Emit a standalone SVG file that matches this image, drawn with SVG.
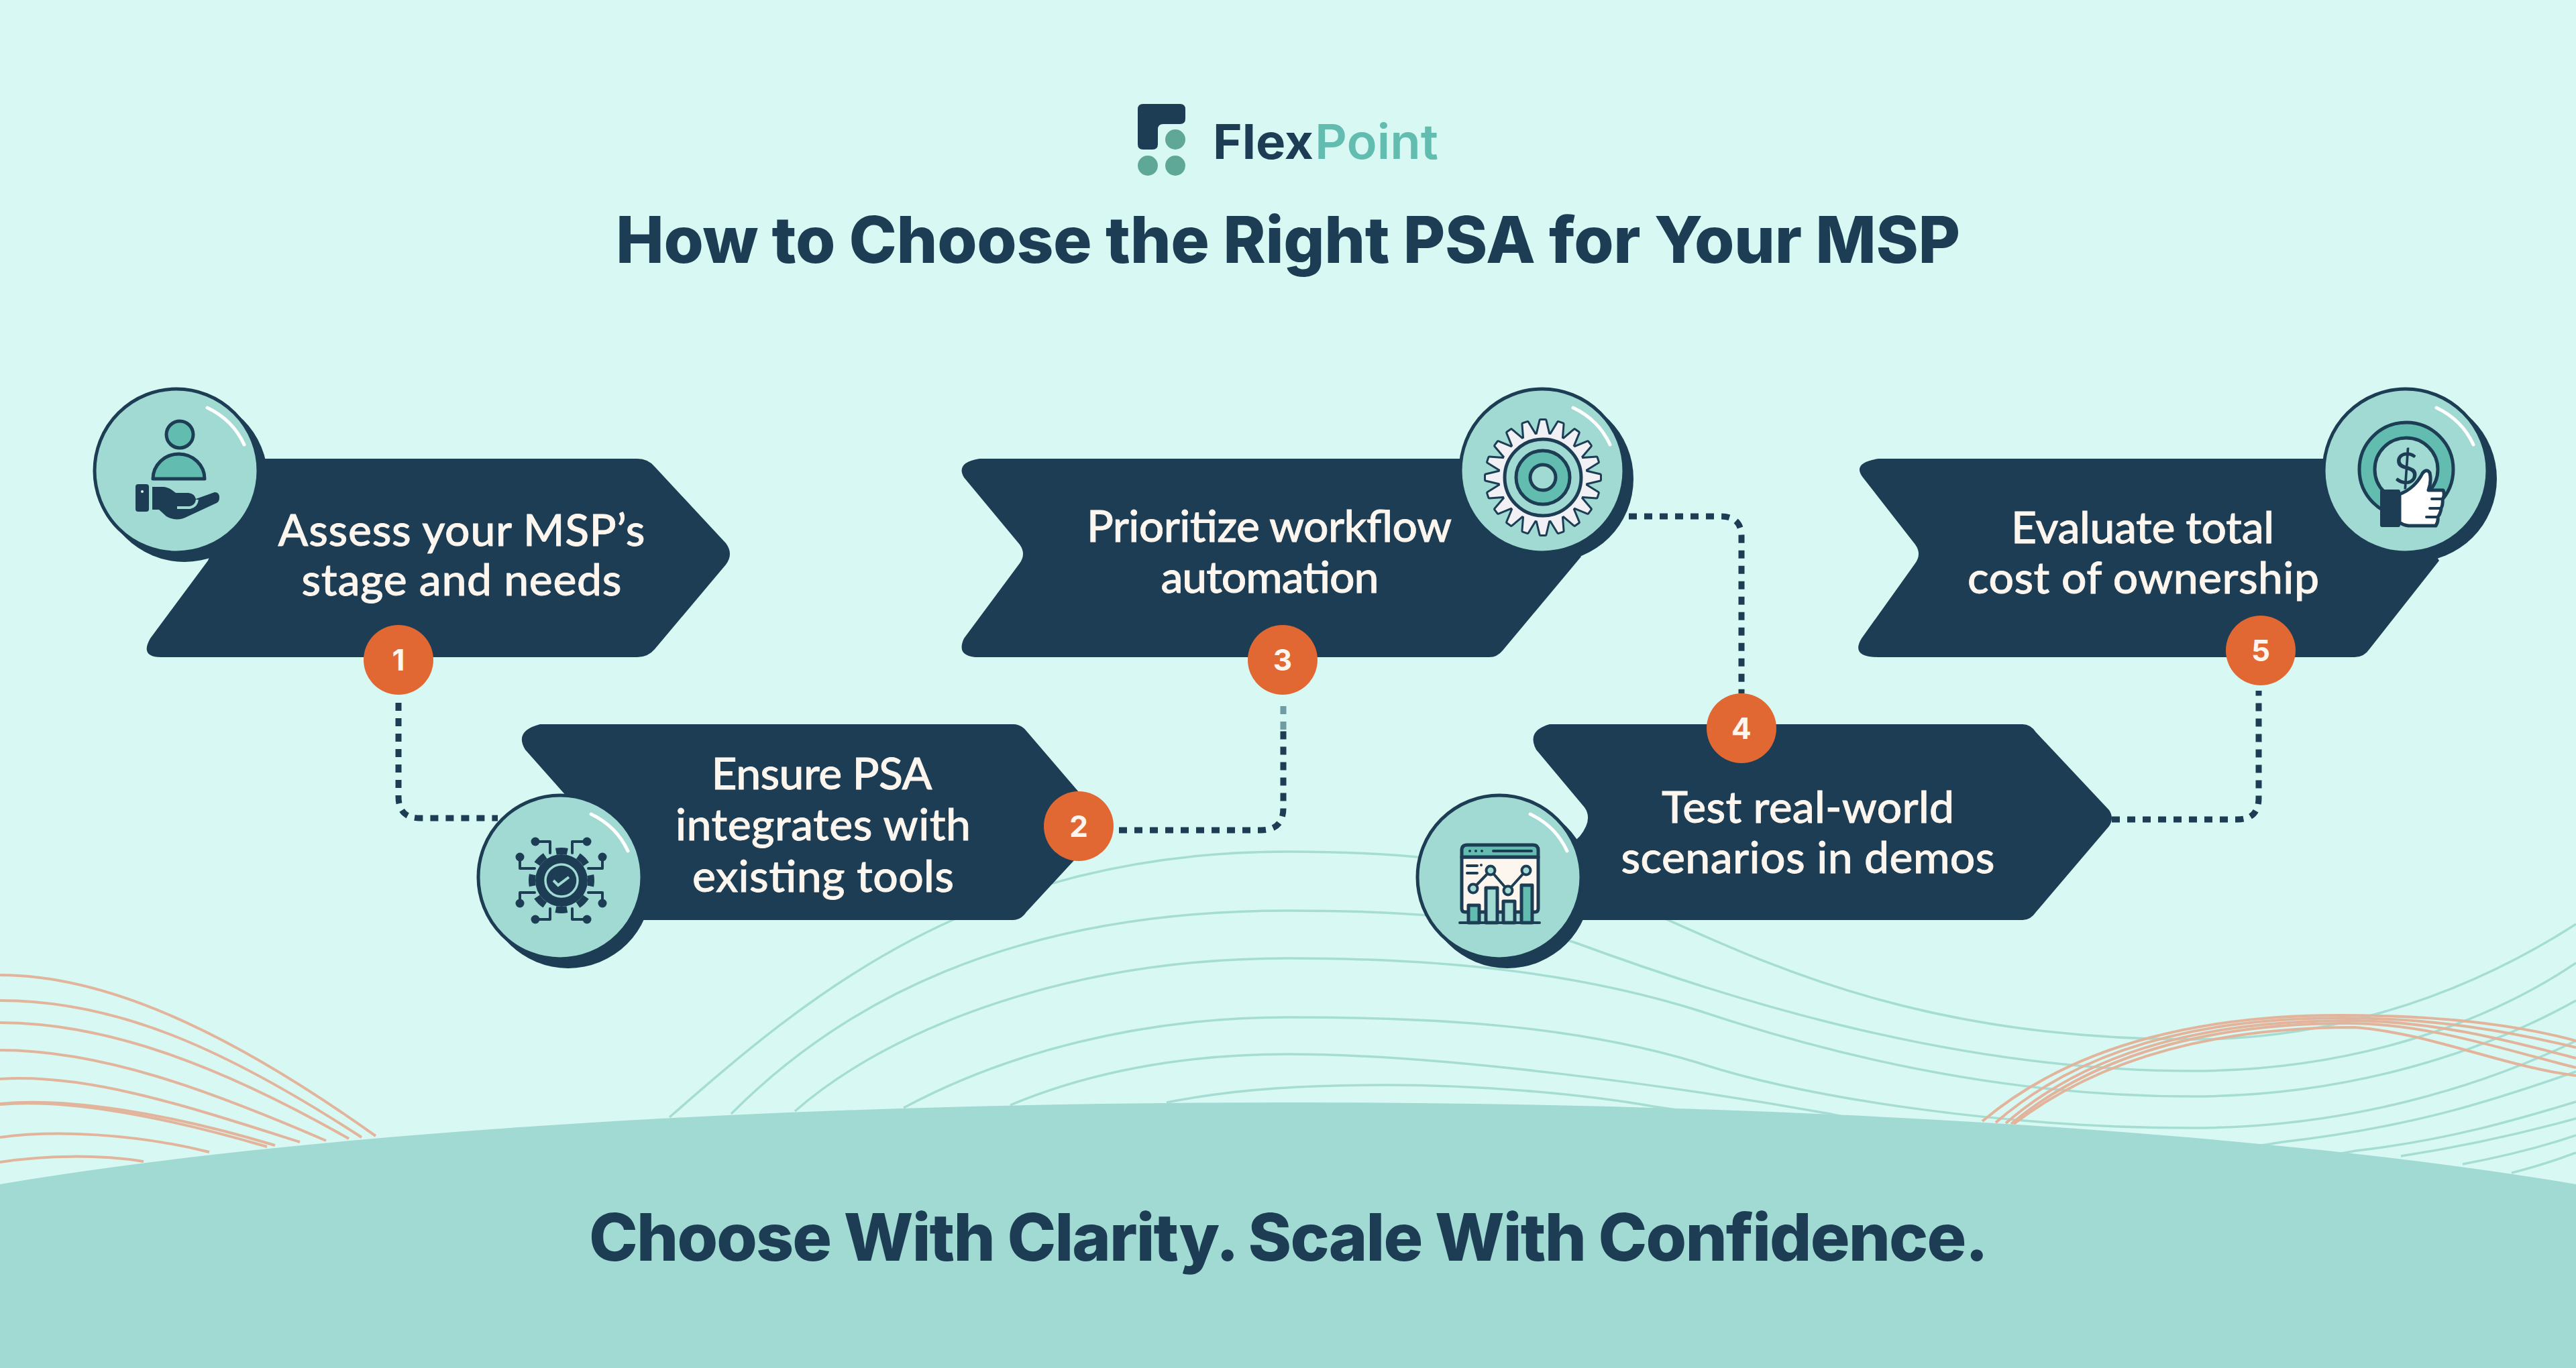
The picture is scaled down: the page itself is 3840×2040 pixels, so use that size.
<svg xmlns="http://www.w3.org/2000/svg" xmlns:xlink="http://www.w3.org/1999/xlink" width="3840" height="2040" viewBox="0 0 3840 2040">
<style>
.navy{fill:#1c3d54}
.body{font-family:"Lato","Liberation Sans",sans-serif;font-weight:500;font-size:66px;fill:#fdf6ee;stroke:#fdf6ee;stroke-width:.8px;text-anchor:middle}
.head{font-family:"Inter","Liberation Sans",sans-serif;font-weight:800;fill:#1c3d54;text-anchor:middle}
.num{font-family:"Inter","Liberation Sans",sans-serif;font-weight:700;font-size:44px;fill:#fdf6ee;text-anchor:middle}
.badge{fill:#e26833}
.tl{fill:none;stroke:#a5ddd3;stroke-width:3.5}
.pl{fill:none;stroke:#e3b49c;stroke-width:4}
.dash{fill:none;stroke:#1c3d54;stroke-width:9;stroke-dasharray:12 11}
.ln{fill:none;stroke:#1c3d54;stroke-width:4;stroke-linecap:round;stroke-linejoin:round}
.icn{stroke:#1c3d54;stroke-width:5;stroke-linejoin:round}
.teal{fill:#62bdb0}.pale{fill:#a1d9d3}.cream{fill:#fdf6ee}
</style>
<defs>
<g id="bubble">
<circle cx="12" cy="12" r="124" fill="#1c3d54"/>
<circle r="122" fill="#a1d9d3" stroke="#1c3d54" stroke-width="5"/>
<path d="M46 -94 Q84 -76 101 -39" fill="none" stroke="#fff" stroke-width="5" stroke-linecap="round"/>
</g>
<path id="tooth" d="M-9 -62 L-3.500 -85 L3.500 -85 L9 -62 Z"/>
<g id="t5"><use xlink:href="#tooth"/><use xlink:href="#tooth" transform="rotate(18)"/><use xlink:href="#tooth" transform="rotate(36)"/><use xlink:href="#tooth" transform="rotate(54)"/><use xlink:href="#tooth" transform="rotate(72)"/></g>
<g id="t20"><use xlink:href="#t5"/><use xlink:href="#t5" transform="rotate(90)"/><use xlink:href="#t5" transform="rotate(180)"/><use xlink:href="#t5" transform="rotate(270)"/></g>
</defs>
<rect width="3840" height="2040" fill="#d8f8f3"/>
<g id="background-lines">
<path class="tl" d="M998 1666 C1200 1490 1450 1270 1920 1270 C2130 1270 2300 1290 2489 1373 C2650 1445 2880 1550 3267 1550 C3450 1550 3650 1500 3840 1378"/>
<path class="tl" d="M1090 1661 C1250 1500 1500 1358 1920 1358 C2110 1358 2240 1370 2349 1406 C2550 1480 2900 1597 3267 1597 C3500 1597 3700 1530 3840 1436"/>
<path class="tl" d="M1185 1657 C1330 1530 1600 1429 1920 1429 C2150 1429 2350 1450 2532 1507 C2750 1580 3000 1635 3267 1635 C3500 1635 3700 1570 3840 1492"/>
<path class="tl" d="M1347 1652 C1500 1570 1700 1517 1920 1517 C2150 1517 2350 1530 2532 1585 C2700 1640 3000 1682 3267 1682 C3500 1682 3700 1620 3840 1552"/>
<path class="tl" d="M1506 1648 C1620 1600 1760 1572 1920 1572 C2150 1572 2500 1620 2728 1661 C2900 1700 3200 1740 3402 1703 C3600 1680 3720 1640 3840 1598"/>
<path class="tl" d="M1739 1644 C1850 1622 1960 1618 2067 1618 C2200 1618 2350 1630 2465 1650 C2800 1700 3300 1760 3512 1716 C3650 1700 3750 1670 3840 1643"/>
<path class="tl" d="M3579 1724 C3670 1710 3760 1690 3840 1668"/>
<path class="tl" d="M3671 1736 C3730 1725 3790 1710 3840 1693"/>
<path class="tl" d="M3744 1749 C3780 1740 3810 1730 3840 1719"/>
<path class="pl" d="M0 1454 C150 1454 330 1530 560 1694"/>
<path class="pl" d="M0 1492 C170 1492 330 1560 539 1696"/>
<path class="pl" d="M0 1525 C160 1525 330 1590 520 1698"/>
<path class="pl" d="M0 1566 C150 1566 310 1625 486 1701"/>
<path class="pl" d="M0 1609 C130 1600 280 1650 447 1703"/>
<path class="pl" d="M0 1646 C100 1636 250 1660 410 1708"/>
<path class="pl" d="M0 1647 C100 1638 245 1665 398 1710"/>
<path class="pl" d="M0 1696 C80 1685 200 1690 312 1718"/>
<path class="pl" d="M0 1733 C70 1722 150 1722 214 1732"/>
<path class="pl" d="M2955 1672 C3100 1550 3300 1514 3487 1514 C3620 1514 3740 1525 3840 1552"/>
<path class="pl" d="M2975 1674 C3110 1556 3300 1518 3490 1518 C3630 1518 3740 1538 3840 1562"/>
<path class="pl" d="M2990 1675 C3120 1562 3300 1522 3500 1522 C3630 1522 3740 1552 3840 1578"/>
<path class="pl" d="M2998 1676 C3130 1566 3310 1526 3500 1526 C3620 1526 3730 1565 3840 1592"/>
<path class="pl" d="M3002 1676 C3140 1570 3320 1532 3510 1532 C3620 1540 3730 1590 3840 1604"/>
</g>
<path id="hill" class="pale" d="M0 1766 A2400 305 0 0 1 3840 1766 V2040 H0 Z"/>
<g id="logo">
<path class="navy" d="M1704 155 H1759 Q1767 155 1767 163 V177 Q1767 185 1759 185 H1734 Q1726 185 1726 193 V215 Q1726 223 1718 223 H1704 Q1696 223 1696 215 V163 Q1696 155 1704 155 Z"/>
<circle cx="1752" cy="208" r="15" fill="#5fa898"/><circle cx="1711" cy="247" r="15" fill="#5fa898"/><circle cx="1752" cy="247" r="15" fill="#5fa898"/>
<text x="1808" y="237" font-family="Inter, Open Sans, sans-serif" font-weight="700" font-size="72" fill="#1c3d54" textLength="150" lengthAdjust="spacingAndGlyphs">Flex</text>
<text x="1960" y="237" font-family="Inter, Open Sans, sans-serif" font-weight="600" font-size="72" fill="#62bdb0" textLength="184" lengthAdjust="spacingAndGlyphs">Point</text>
</g>
<text id="title" class="head" x="1920" y="392" font-size="96" textLength="2004">How to Choose the Right PSA for Your MSP</text>
<text id="tagline" class="head" x="1921" y="1880" font-size="98" textLength="2086">Choose With Clarity. Scale With Confidence.</text>
<g id="connectors">
<path class="dash" d="M594 1048 V1188 Q594 1220 626 1220 H742"/>
<path class="dash" d="M1668 1238 H1880 Q1913 1238 1913 1205 V1090"/>
<path class="dash" d="M1913 1088 V1046" style="stroke:#6f9ca3"/>
<path class="dash" d="M2428 770 H2565 Q2596 770 2596 800 V1034"/>
<path class="dash" d="M3148 1222 H3335 Q3367 1222 3367 1190 V1030"/>
</g>
<g id="node-1">
<path class="navy" d="M340 684 H950 Q966 684 976 696 L1082 810 Q1094 826 1082 842 L976 968 Q966 980 950 980 H240 Q208 980 224 952 L310 836 L340 760 Z"/>
<use xlink:href="#bubble" x="263" y="702"/>
<path class="icn teal" d="M228 714 A38.500 37 0 0 1 305 714 Z"/><circle class="icn teal" cx="268" cy="648" r="20"/>
<rect class="navy" x="202" y="722" width="20" height="41" rx="4"/><circle cx="212" cy="733" r="2" fill="#d8f8f3"/>
<path class="navy" d="M227 726 H243 Q250 726 258 732 L262 735 H281 Q290 736 292 744 L320 734 Q327 734 327 742 Q327 748 323 750 L280 770 Q263 779 248 770 L237 760 H227 Z"/>
<path d="M264 757 H283 Q293 755 294 745" fill="none" stroke="#a1d9d3" stroke-width="4"/>
<text class="body" x="688" y="814" textLength="547">Assess your MSP’s</text>
<text class="body" x="688" y="888" textLength="477">stage and needs</text>
<circle class="badge" cx="594" cy="984" r="52"/><text class="num" x="594" y="1000">1</text>
</g>
<g id="node-2">
<path class="navy" d="M805 1080 H1510 Q1522 1080 1530 1090 L1650 1230 L1530 1360 Q1522 1372 1510 1372 H900 V1250 L783 1118 Q766 1090 805 1080 Z"/>
<use xlink:href="#bubble" x="835" y="1308"/>
<circle cx="837" cy="1313" r="39" fill="#1c3d54"/>
<circle cx="837" cy="1313" r="44" fill="none" stroke="#1c3d54" stroke-width="10" stroke-dasharray="17 17.560" stroke-dashoffset="8.500"/>
<circle cx="837" cy="1313" r="24" fill="none" stroke="#a1d9d3" stroke-width="3.500"/>
<path d="M825 1313 L832 1320 L848 1308" fill="none" stroke="#a1d9d3" stroke-width="4"/>
<path class="ln" d="M798 1255 H820 V1272 M875 1255 H853 V1272 M775 1278 V1295 H797 M898 1278 V1295 H877 M775 1347 V1331 H797 M898 1347 V1331 H877 M798 1371 H820 V1355 M875 1371 H853 V1355"/>
<g class="navy"><circle cx="798" cy="1255" r="6.500"/><circle cx="875" cy="1255" r="6.500"/><circle cx="775" cy="1278" r="6.500"/><circle cx="898" cy="1278" r="6.500"/><circle cx="775" cy="1347" r="6.500"/><circle cx="898" cy="1347" r="6.500"/><circle cx="798" cy="1371" r="6.500"/><circle cx="875" cy="1371" r="6.500"/></g>
<text class="body" x="1225" y="1177" textLength="329">Ensure PSA</text>
<text class="body" x="1227" y="1253" textLength="440">integrates with</text>
<text class="body" x="1227" y="1330" textLength="390">existing tools</text>
<circle class="badge" cx="1608" cy="1232" r="52"/><text class="num" x="1608" y="1248">2</text>
</g>
<g id="node-3">
<path class="navy" d="M1460 684 H2250 L2357 830 L2240 970 Q2232 980 2220 980 H1460 Q1424 980 1437 952 L1520 840 Q1530 826 1520 812 L1437 712 Q1424 690 1460 684 Z"/>
<use xlink:href="#bubble" x="2299" y="702"/>
<g transform="translate(2300 712)">
<use xlink:href="#t20" fill="#1c3d54" stroke="#1c3d54" stroke-width="6" stroke-linejoin="round"/>
<circle r="68" fill="#1c3d54"/>
<use xlink:href="#t20" fill="#f0f0f5"/>
<circle r="65" fill="#f0f0f5"/>
<circle r="57" fill="#a1d9d3" stroke="#1c3d54" stroke-width="5"/>
<circle r="40" fill="#62bdb0" stroke="#1c3d54" stroke-width="5"/>
<circle r="19" fill="#a1d9d3" stroke="#1c3d54" stroke-width="5"/>
</g>
<text class="body" x="1892" y="808" textLength="544">Prioritize workflow</text>
<text class="body" x="1893" y="884" textLength="325">automation</text>
<circle class="badge" cx="1912" cy="984" r="52"/><text class="num" x="1912" y="1000">3</text>
</g>
<g id="node-4">
<path class="navy" d="M2310 1080 H3015 Q3027 1080 3035 1092 L3144 1208 Q3152 1220 3144 1232 L3035 1360 Q3027 1372 3015 1372 H2300 V1300 L2355 1247 Q2375 1222 2362 1204 L2290 1118 Q2275 1090 2310 1080 Z"/>
<use xlink:href="#bubble" x="2235" y="1308"/>
<path class="icn cream" d="M2179 1278 H2293 V1355 Q2293 1360 2288 1360 H2184 Q2179 1360 2179 1355 Z"/>
<path class="icn teal" d="M2179 1278 V1268 Q2179 1260 2187 1260 H2285 Q2293 1260 2293 1268 V1278 Z"/>
<rect class="icn teal" x="2189" y="1350" width="16" height="26"/>
<rect class="icn pale" x="2215" y="1324" width="17" height="52"/>
<rect class="icn pale" x="2241" y="1344" width="17" height="32"/>
<rect class="icn teal" x="2268" y="1320" width="16" height="56"/>
<path class="ln" d="M2176 1376 H2295 M2226 1269 H2283 M2187 1291 H2202 M2187 1302 H2202"/>
<path class="ln" d="M2196 1325 L2222 1298 L2248 1328 L2275 1298"/>
<g class="navy"><circle cx="2191" cy="1269" r="2"/><circle cx="2200" cy="1269" r="2"/><circle cx="2209" cy="1269" r="2"/><circle cx="2208" cy="1290" r="2"/></g>
<circle class="pale" cx="2196" cy="1325" r="6.500" stroke="#1c3d54" stroke-width="4"/><circle class="pale" cx="2222" cy="1298" r="6.500" stroke="#1c3d54" stroke-width="4"/><circle class="pale" cx="2248" cy="1328" r="6.500" stroke="#1c3d54" stroke-width="4"/><circle class="pale" cx="2275" cy="1298" r="6.500" stroke="#1c3d54" stroke-width="4"/>
<text class="body" x="2695" y="1227" textLength="436">Test real-world</text>
<text class="body" x="2695" y="1302" textLength="557">scenarios in demos</text>
<circle class="badge" cx="2596" cy="1086" r="52"/><text class="num" x="2596" y="1102">4</text>
</g>
<g id="node-5">
<path class="navy" d="M2800 684 H3540 L3636 836 L3532 968 Q3524 980 3510 980 H2800 Q2758 980 2775 952 L2855 840 Q2865 826 2855 812 L2777 712 Q2760 690 2800 684 Z"/>
<use xlink:href="#bubble" x="3586" y="702"/>
<circle class="icn teal" cx="3587" cy="700" r="70"/>
<circle class="icn pale" cx="3587" cy="700" r="47"/>
<text x="3587" y="722" font-family="Lato, sans-serif" font-size="66" text-anchor="middle" fill="#1c3d54">$</text>
<path class="icn" fill="#fff" stroke-width="4" d="M3577 737 Q3600 728 3611 706 Q3617 698 3622 705 Q3625 718 3620 731 H3642 Q3645 738 3641 745 Q3642 752 3639 758 Q3638 766 3634 771 Q3635 778 3631 784 H3590 Q3582 783 3577 779 Z"/>
<path class="ln" d="M3625 744 H3641 M3622 758 H3639 M3617 771 H3634"/>
<rect class="navy" x="3548" y="730" width="30" height="56" rx="3"/>
<text class="body" x="3194" y="810" textLength="392">Evaluate total</text>
<text class="body" x="3195" y="885" textLength="524">cost of ownership</text>
<circle class="badge" cx="3370" cy="970" r="52"/><text class="num" x="3370" y="986">5</text>
</g>
</svg>
